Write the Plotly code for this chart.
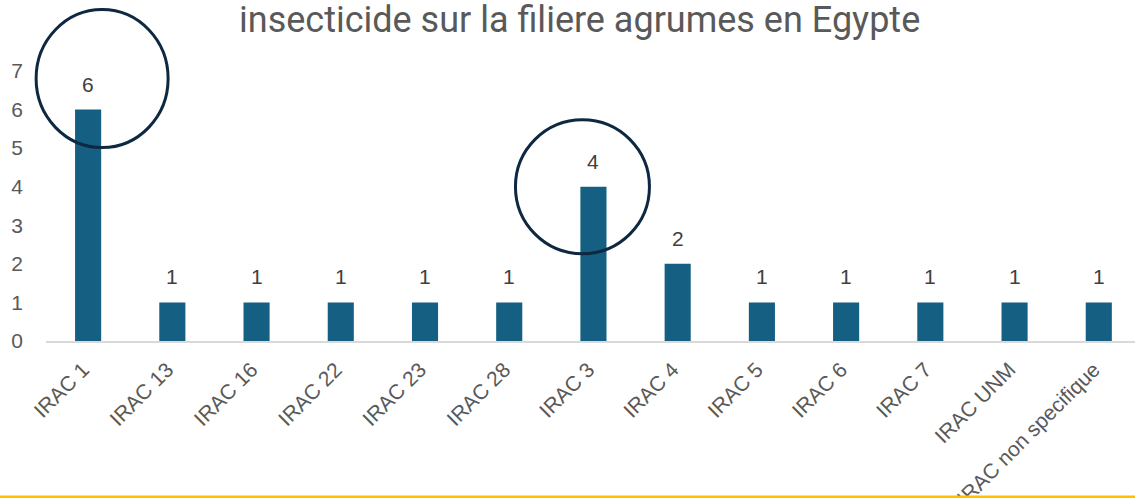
import plotly.graph_objects as go

categories = ["IRAC 1", "IRAC 13", "IRAC 16", "IRAC 22", "IRAC 23", "IRAC 28",
              "IRAC 3", "IRAC 4", "IRAC 5", "IRAC 6", "IRAC 7", "IRAC UNM",
              "IRAC non specifique"]
values = [6, 1, 1, 1, 1, 1, 4, 2, 1, 1, 1, 1, 1]
y_ticks = [0, 1, 2, 3, 4, 5, 6, 7]
title_text = "insecticide sur la filiere agrumes en Egypte"
highlighted = ["IRAC 1", "IRAC 3"]

W, H = 1135, 498
ML, MR, MT, MB = 46, 0, 71, 157
plot_w = W - ML - MR
plot_h = H - MT - MB
XR = [-0.5, 12.43]
YR = [0, 7]

BAR = "#156082"
NAVY = "#0E2841"
GREY = "#595959"
DARK = "#404040"
FONT = "Liberation Sans, Arial, sans-serif"

fig = go.Figure()
fig.add_trace(go.Bar(
    x=categories, y=values, width=0.31,
    marker=dict(color=BAR, line=dict(width=0)),
    hoverinfo="x+y",
))

annotations = []
for c, v in zip(categories, values):
    annotations.append(dict(
        x=c, y=v, xref="x", yref="y", text=str(v), showarrow=False,
        yanchor="bottom", yshift=12,
        font=dict(family=FONT, size=21, color=DARK),
    ))
annotations.append(dict(
    x=(579 - ML) / plot_w, y=(H - MB - 20) / plot_h,
    xref="paper", yref="paper", text=title_text, showarrow=False,
    xanchor="center", yanchor="middle",
    font=dict(family="Roboto", size=36, color=GREY),
))

shapes = []
# circle offsets (px) relative to the top-centre of the highlighted bar
offsets = {"IRAC 1": (14, 31, 66, 69), "IRAC 3": (-11, 0, 67, 67)}
for c in highlighted:
    i = categories.index(c)
    dx, dy, rx, ry = offsets[c]
    ax = (i - XR[0]) / (XR[1] - XR[0])
    ay = (values[i] - YR[0]) / (YR[1] - YR[0])
    shapes.append(dict(
        type="circle", xref="paper", yref="paper",
        xsizemode="pixel", ysizemode="pixel",
        xanchor=ax, yanchor=ay,
        x0=dx - rx, x1=dx + rx, y0=dy - ry, y1=dy + ry,
        line=dict(color=NAVY, width=3), fillcolor="rgba(0,0,0,0)",
    ))
# yellow bottom rule
yb = (H - MB - 497) / plot_h
shapes.append(dict(
    type="line", xref="paper", yref="paper",
    x0=-ML / plot_w, x1=1.0, y0=yb, y1=yb,
    line=dict(color="#FFC000", width=3),
))

fig.update_layout(
    width=W, height=H,
    margin=dict(l=ML, r=MR, t=MT, b=MB, pad=0),
    paper_bgcolor="white", plot_bgcolor="white",
    showlegend=False,
    annotations=annotations,
    shapes=shapes,
    xaxis=dict(
        type="category", range=XR,
        tickangle=-45, showgrid=False,
        showline=True, linecolor="#D9D9D9", linewidth=2,
        ticks="", automargin=False,
        ticklabelstandoff=6, ticklabelshift=-5,
        tickfont=dict(family=FONT, size=21, color=GREY),
        fixedrange=True,
    ),
    yaxis=dict(
        range=YR, tickvals=y_ticks, showgrid=False, zeroline=False,
        showline=False, ticks="", automargin=False,
        ticklabelstandoff=22,
        tickfont=dict(family=FONT, size=21, color=GREY),
        fixedrange=True,
    ),
)

fig.write_html(
    "out.html",
    config={"displayModeBar": False},
    post_script="document.body.style.margin='0';document.body.style.overflow='hidden';",
)
